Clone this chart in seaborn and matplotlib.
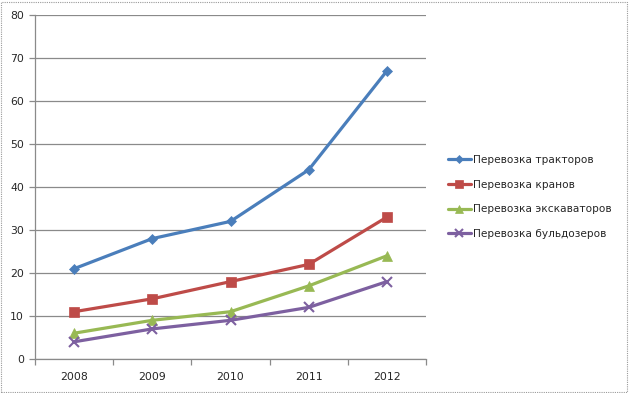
import pandas as pd
import matplotlib
matplotlib.use("Agg")
from matplotlib import pyplot as plt
from matplotlib.patches import Rectangle
import seaborn as sns

# data
years = ["2008", "2009", "2010", "2011", "2012"]
series = ["Перевозка тракторов", "Перевозка кранов",
          "Перевозка экскаваторов", "Перевозка бульдозеров"]
tractors = [21, 28, 32, 44, 67]
cranes = [11, 14, 18, 22, 33]
excavators = [6, 9, 11, 17, 24]
bulldozers = [4, 7, 9, 12, 18]

colors = ["#4A7EBB", "#BE4B48", "#98B954", "#7D60A0"]
markers = ["D", "s", "^", "x"]
msizes = [5, 7, 7, 7]

df = pd.DataFrame({
    "year": years * 4,
    "value": tractors + cranes + excavators + bulldozers,
    "series": [s for s in series for _ in years],
})

sns.set_theme(style="white")
plt.rcParams["font.family"] = ["DejaVu Sans"]

fig = plt.figure(figsize=(6.29, 3.93), dpi=100)
ax = fig.add_axes([35/629, 1-359/393, (426-35)/629, (359-15)/393])

for s, c, m, ms in zip(series, colors, markers, msizes):
    sub = df[df["series"] == s]
    sns.lineplot(data=sub, x="year", y="value", ax=ax, color=c, marker=m,
                 markersize=ms, linewidth=2.3, markeredgecolor=c,
                 markeredgewidth=1.5 if m == "x" else 0.5, label=s)

ax.set_xlim(-0.5, 4.5)
ax.set_ylim(0, 80)
ax.set_yticks(range(0, 81, 10))
ax.set_xlabel("")
ax.set_ylabel("")
ax.grid(axis="y", color="#8a8a8a", linewidth=0.9)
ax.set_axisbelow(True)
for side in ["top", "right"]:
    ax.spines[side].set_visible(False)
for side in ["left", "bottom"]:
    ax.spines[side].set_color("#8a8a8a")
    ax.spines[side].set_linewidth(0.9)

# category boundaries as tick marks
ax.set_xticks([i - 0.5 for i in range(6)], minor=True)
ax.tick_params(axis="x", which="major", length=0, labelsize=7.8, pad=9)
ax.tick_params(axis="x", which="minor", length=4, direction="out",
               color="#8a8a8a", width=0.9, bottom=True)
ax.tick_params(axis="y", length=4, direction="out", color="#8a8a8a",
               width=0.9, labelsize=7.8, pad=4, left=True)

leg = ax.legend(loc="center left", bbox_to_anchor=(438/629, 1-197/393),
                bbox_transform=fig.transFigure, frameon=False, fontsize=7.6,
                handlelength=2.2, labelspacing=1.4, handletextpad=0.2,
                markerscale=0.75)

# outer frame of the chart
fig.patches.append(Rectangle((0.002, 0.003), 0.995, 0.993, transform=fig.transFigure,
                             fill=False, edgecolor="#9a9a9a", linewidth=0.8,
                             linestyle=(0, (1, 1))))

fig.savefig("out.png", dpi=100)
